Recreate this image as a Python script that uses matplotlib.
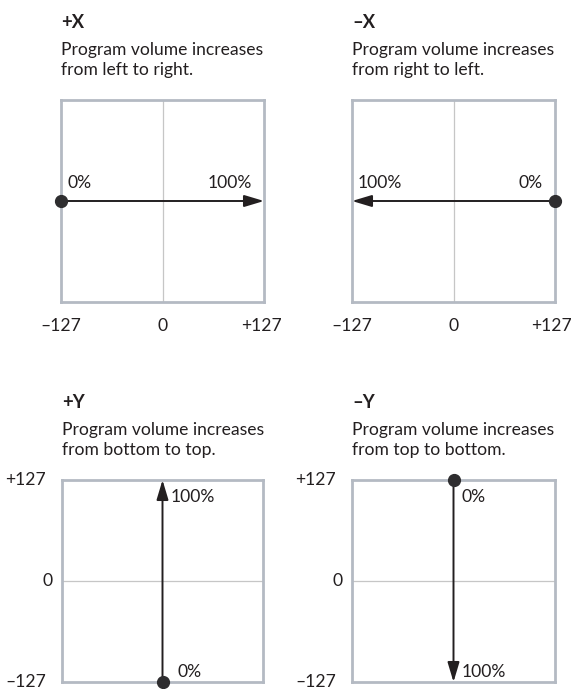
import matplotlib
matplotlib.use("Agg")
import matplotlib.pyplot as plt
from matplotlib.transforms import offset_copy, blended_transform_factory

plt.rcParams['font.family'] = ['Lato', 'DejaVu Sans']

# ---- data ----
panel_names = ["+X", "–X", "+Y", "–Y"]
panel_desc = ["Program volume increases\nfrom left to right.",
              "Program volume increases\nfrom right to left.",
              "Program volume increases\nfrom bottom to top.",
              "Program volume increases\nfrom top to bottom."]
axis_ticks = [-127, 0, 127]
axis_tick_labels = ["–127", "0", "+127"]
# arrow start (0%) and end (100%) points per panel
start_x = [-127, 127, 0, 0]
start_y = [0, 0, -127, 127]
end_x = [127, -127, 0, 0]
end_y = [0, 0, 127, -127]
start_label = ["0%", "0%", "0%", "0%"]
end_label = ["100%", "100%", "100%", "100%"]

W, H = 571, 689
fig = plt.figure(figsize=(W / 100, H / 100), dpi=100)

# axes boxes in pixels (left, right, top, bottom)
boxes = [(61, 264, 100, 302), (352, 555, 100, 302),
         (62, 263, 480, 682), (352, 555, 480, 682)]

SPINE = "#b4bac3"
GRID = "#c6c6c6"
INK = "#231f20"
FS = 12.6

for i, (l, r, t, b) in enumerate(boxes):
    ax = fig.add_axes([l / W, 1 - b / H, (r - l) / W, (b - t) / H])
    ax.set_xlim(axis_ticks[0], axis_ticks[-1])
    ax.set_ylim(axis_ticks[0], axis_ticks[-1])
    ax.set_xticks([])
    ax.set_yticks([])
    for s in ax.spines.values():
        s.set_color(SPINE)
        s.set_linewidth(2.0)
    horizontal = (i < 2)
    if horizontal:
        ax.axvline(axis_ticks[1], color=GRID, lw=0.9, zorder=1)
        tr = blended_transform_factory(ax.transData, ax.transAxes)
        for v, lab in zip(axis_ticks, axis_tick_labels):
            dx = -3 if v > 0 else 0
            ax.text(v, 0, lab, transform=offset_copy(tr, fig=fig, x=dx, y=-24, units='dots'),
                    ha='center', va='center', fontsize=FS, color=INK, clip_on=False)
    else:
        ax.axhline(axis_ticks[1], color=GRID, lw=0.9, zorder=1)
        tr = blended_transform_factory(ax.transAxes, ax.transData)
        for v, lab in zip(axis_ticks, axis_tick_labels):
            dx = -9 if v == 0 else -16
            dy = 0
            ax.text(0, v, lab, transform=offset_copy(tr, fig=fig, x=dx, y=dy, units='dots'),
                    ha='right', va='center', fontsize=FS, color=INK, clip_on=False)

    # arrow
    ax.annotate("", xy=(end_x[i], end_y[i]), xytext=(start_x[i], start_y[i]),
                arrowprops=dict(arrowstyle="-|>,head_length=12,head_width=3.6",
                                mutation_scale=1, color=INK, lw=1.4,
                                shrinkA=0, shrinkB=0),
                annotation_clip=False, zorder=4)
    ax.plot([start_x[i]], [start_y[i]], 'o', color="#2e2d2f", ms=8.5,
            clip_on=False, zorder=5)

    # percent labels
    if horizontal:
        for (x, y, lab) in [(start_x[i], start_y[i], start_label[i]),
                            (end_x[i], end_y[i], end_label[i])]:
            ha = 'left' if x < 0 else 'right'
            dx = 6 if x < 0 else -12
            ax.text(x, y, lab, transform=offset_copy(ax.transData, fig=fig, x=dx, y=18, units='dots'),
                    ha=ha, va='center', fontsize=FS, color=INK, clip_on=False)
    else:
        for (x, y, lab, is_start) in [(start_x[i], start_y[i], start_label[i], True),
                                      (end_x[i], end_y[i], end_label[i], False)]:
            if y < 0:
                dy = 10
            else:
                dy = -17
            if is_start and y < 0:
                dx = 15
            else:
                dx = 8
            ax.text(x, y, lab, transform=offset_copy(ax.transData, fig=fig, x=dx, y=dy, units='dots'),
                    ha='left', va='center', fontsize=FS, color=INK, clip_on=False)

    # titles
    fig.text(l / W, 1 - (t - 77) / H, panel_names[i], fontsize=FS + 0.6, fontweight='bold',
             color=INK, ha='left', va='center')
    fig.text(l / W, 1 - (t - 40) / H, panel_desc[i], fontsize=FS, color=INK,
             ha='left', va='center', linespacing=1.24)

fig.savefig("out.png", dpi=100, facecolor="white")
